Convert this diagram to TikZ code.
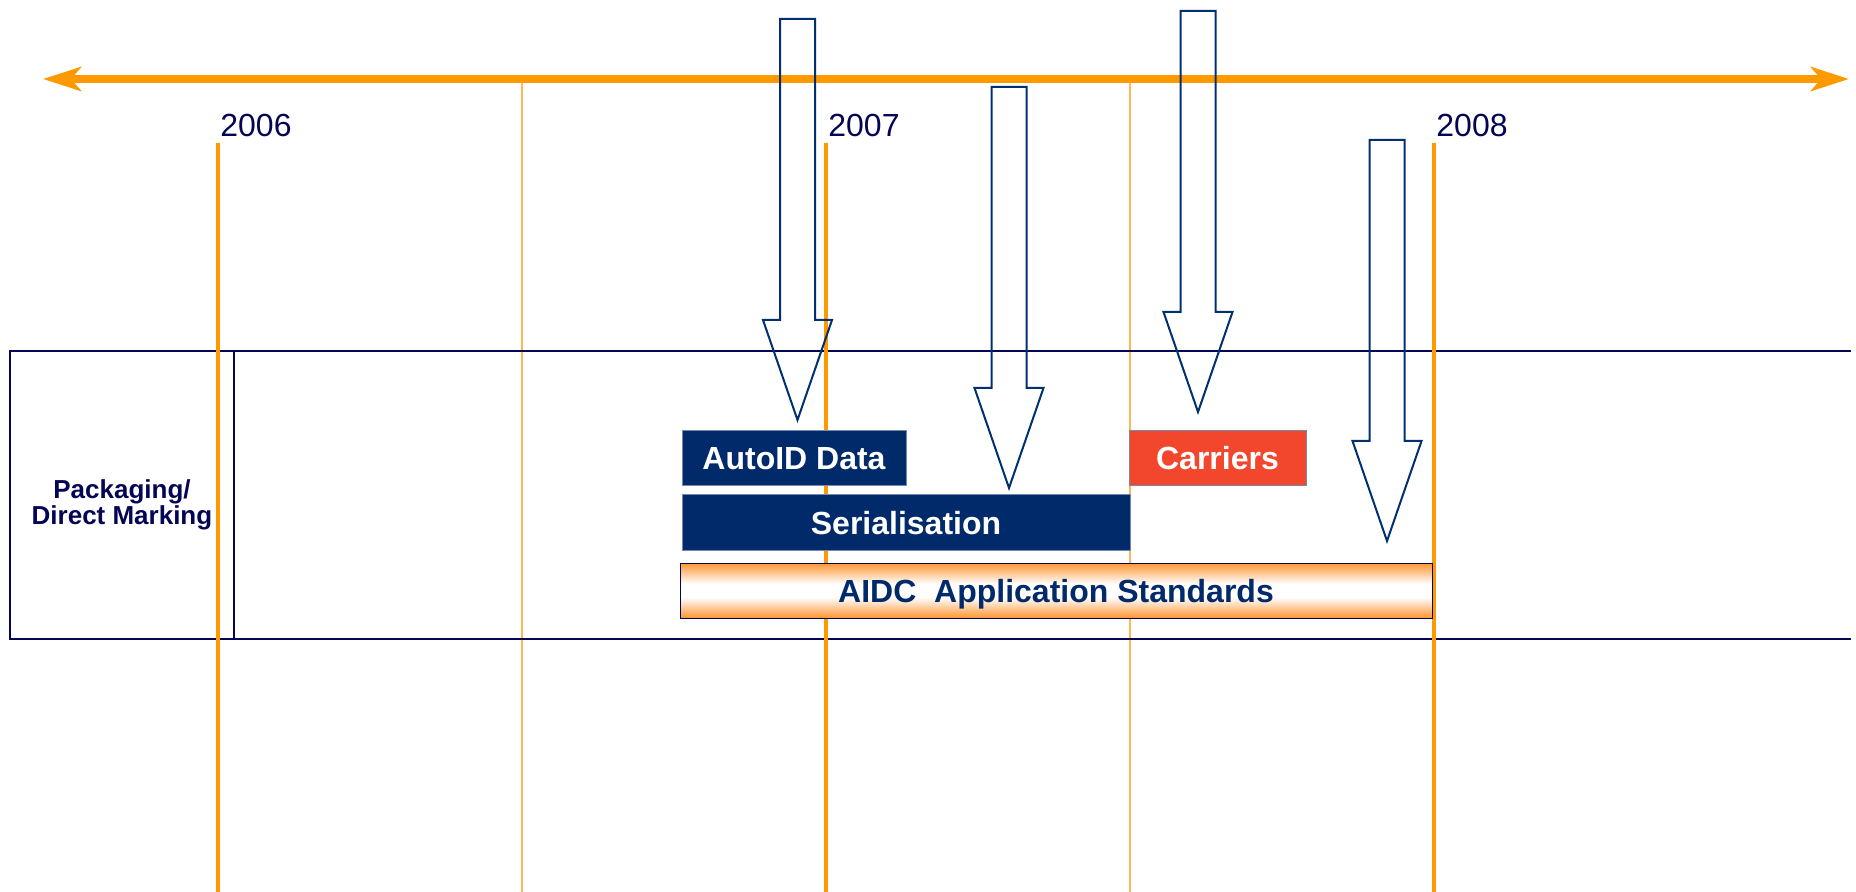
\documentclass[tikz,border=0pt]{standalone}
\usepackage{fontspec}
\setmainfont{Liberation Sans}
\usetikzlibrary{arrows.meta,positioning}

\definecolor{tlorange}{RGB}{255,153,0}
\definecolor{tlpale}{RGB}{255,184,77}
\definecolor{bandnavy}{RGB}{5,5,85}
\definecolor{boxnavy}{RGB}{0,42,106}
\definecolor{arrnavy}{RGB}{0,48,112}
\definecolor{carred}{RGB}{242,71,44}
\definecolor{shadeorange}{RGB}{255,150,50}

\pgfdeclareverticalshading{aidcshade}{100bp}{color(0bp)=(shadeorange); color(25bp)=(shadeorange);
  color(44bp)=(white); color(56bp)=(white); color(75bp)=(shadeorange); color(100bp)=(shadeorange)}

\tikzset{
  year/.style={text=bandnavy, font=\fontsize{16}{18}\selectfont, anchor=base west, inner sep=0pt},
  yearline/.style={tlorange, line width=2pt},
  halfline/.style={tlpale, line width=0.75pt},
  band/.style={bandnavy, line width=1.1pt},
  task/.style={draw=boxnavy!55, line width=0.5pt, text=white, inner sep=0pt,
    font=\bfseries\fontsize{16}{18}\selectfont, text height=11.5pt, text depth=0pt,
    minimum height=27.5pt},
  blockarrow/.style={arrnavy, line width=1pt, line join=miter},
  axistip/.tip={Stealth[length=19pt, width=12pt, inset=5pt]},
}

\begin{document}
\begin{tikzpicture}[x=0.5pt, y=-0.5pt]
  \useasboundingbox (0,0) rectangle (1856,892);

  % half-year lines and the time axis
  \foreach \x in {522,1130}
    \draw[halfline] (\x,83) -- (\x,892);
  \coordinate (past) at (43,79);
  \coordinate (future) at (1849,79);
  \draw[tlorange, line width=3.85pt, axistip-axistip] (past) -- (future);

  % swimlane
  \draw[band] (10,351) rectangle (234,639);
  \draw[band] (234,351) -- (1851,351) (234,639) -- (1851,639);
  \node[text=bandnavy, font=\bfseries\fontsize{13}{10.2}\selectfont, align=center, inner sep=0pt]
    (lane) at (122,505) {Packaging/\\Direct Marking};

  % years
  \foreach \yr [count=\i from 0] in {2006,2007,2008} {
    \draw[yearline] (218+608*\i,143) -- (218+608*\i,892);
    \node[year] (y\yr) at (220+608*\i,137) {\yr};
  }

  % work items
  \node[task, fill=boxnavy, minimum width=112pt] (autoid) at (794,458.5) {AutoID Data};
  \node[task, fill=boxnavy, minimum width=224pt] (serial) at (906,522.5) {Serialisation};
  \node[task, fill=carred, minimum width=88.5pt] (carriers) at (1217.5,458.5) {Carriers};
  \node[task, draw=bandnavy, text=boxnavy, shading=aidcshade,
    minimum width=376pt] (aidc) at (1056,590.5) {AIDC\ \ Application Standards};

  % block arrows
  \foreach \x/\y in {797.5/19, 1009/87, 1198/11, 1387/140}
    \draw[blockarrow] (\x-17.5,\y) -- (\x+17.5,\y) -- (\x+17.5,\y+301) -- (\x+34.5,\y+301)
      -- (\x,\y+401) -- (\x-34.5,\y+301) -- (\x-17.5,\y+301) -- cycle;
\end{tikzpicture}
\end{document}
